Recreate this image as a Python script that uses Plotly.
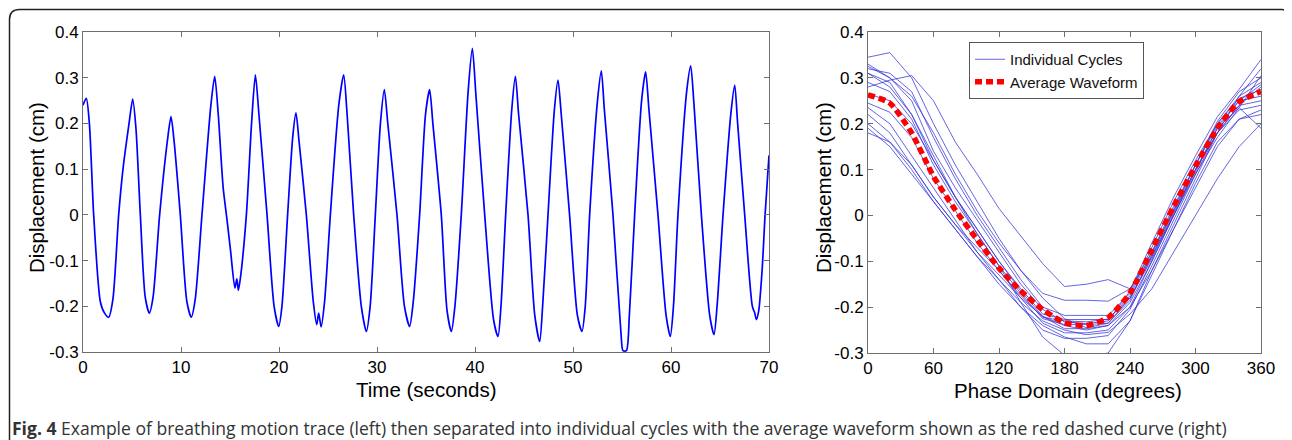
import plotly.graph_objects as go

# ---------------- data: breathing trace (left) ----------------
trace_t = [0.00, 0.34, 0.65, 1.09, 1.77, 2.20, 2.62, 3.05, 3.64, 4.08, 4.70, 5.07,
           5.40, 5.85, 6.35, 6.77, 7.15, 7.82, 8.60, 8.98,
           9.30, 9.93, 10.60, 11.05, 11.45, 12.14, 13.05, 13.44,
           13.80, 14.30, 14.69, 15.05, 15.50, 15.70, 15.85, 16.05, 16.67, 17.20, 17.59,
           17.95, 18.78, 19.50, 19.97, 20.30, 20.88, 21.40, 21.73,
           22.05, 22.79, 23.50, 23.85, 24.05, 24.30, 24.65, 25.24, 26.10, 26.60,
           26.95, 27.62, 28.40, 28.91, 29.30, 29.83, 30.35, 30.75,
           31.10, 32.04, 32.80, 33.33, 33.70, 34.35, 34.95, 35.37,
           35.70, 36.56, 37.15, 37.59, 37.95, 38.60, 39.30, 39.73,
           40.10, 40.99, 41.90, 42.35, 42.65, 43.13, 43.75, 44.12,
           44.45, 45.41, 46.10, 46.60, 46.90, 47.45, 48.10, 48.47,
           48.80, 49.65, 50.45, 50.92, 51.25, 51.70, 52.50, 52.89,
           53.20, 54.08, 54.90, 55.10, 55.45, 55.75, 56.29, 57.00, 57.41,
           57.75, 58.67, 59.50, 59.93, 60.25, 60.71, 61.60, 62.01,
           62.35, 63.10, 63.95, 64.39, 64.70, 65.31, 66.10, 66.50,
           66.80, 67.52, 68.30, 68.55, 68.71, 68.95, 69.30, 69.60, 70.00]
trace_v = [0.240, 0.255, 0.200, 0.000, -0.190, -0.215, -0.224, -0.185, 0.000, 0.100, 0.200, 0.253,
           0.190, 0.000, -0.180, -0.215, -0.180, 0.000, 0.160, 0.215,
           0.160, 0.000, -0.190, -0.224, -0.185, 0.000, 0.240, 0.303,
           0.220, 0.060, -0.010, -0.077, -0.160, -0.140, -0.165, -0.140, 0.000, 0.200, 0.306,
           0.220, 0.000, -0.200, -0.244, -0.200, 0.000, 0.170, 0.223,
           0.160, 0.000, -0.190, -0.240, -0.215, -0.245, -0.190, 0.000, 0.240, 0.306,
           0.220, 0.000, -0.200, -0.255, -0.200, 0.000, 0.200, 0.274,
           0.200, 0.000, -0.200, -0.244, -0.190, 0.000, 0.220, 0.274,
           0.200, 0.000, -0.210, -0.255, -0.200, 0.000, 0.270, 0.364,
           0.260, 0.000, -0.230, -0.266, -0.200, 0.000, 0.230, 0.303,
           0.220, 0.000, -0.220, -0.277, -0.200, 0.000, 0.230, 0.295,
           0.220, 0.000, -0.220, -0.255, -0.200, 0.000, 0.250, 0.315,
           0.230, 0.000, -0.260, -0.297, -0.297, -0.220, 0.000, 0.250, 0.313,
           0.230, 0.000, -0.220, -0.266, -0.200, 0.000, 0.270, 0.326,
           0.240, 0.000, -0.220, -0.262, -0.200, 0.000, 0.220, 0.284,
           0.200, 0.000, -0.200, -0.215, -0.229, -0.210, -0.120, 0.000, 0.130]

# ---------------- data: phase domain (right) ----------------
phase_deg = [0, 20, 40, 60, 80, 100, 120, 140, 160, 180, 200, 220, 240, 260, 280, 300, 320, 340, 360]

cycle_01 = [0.345, 0.355, 0.300, 0.200, 0.110, 0.030, -0.050, -0.120, -0.180, -0.225, -0.245, -0.235, -0.180, -0.090, 0.010, 0.110, 0.200, 0.260, 0.290]
cycle_02 = [0.280, 0.295, 0.305, 0.250, 0.160, 0.090, 0.015, -0.045, -0.105, -0.155, -0.150, -0.140, -0.160, -0.090, 0.000, 0.090, 0.170, 0.235, 0.305]
cycle_03 = [0.325, 0.300, 0.260, 0.180, 0.090, 0.010, -0.060, -0.120, -0.170, -0.185, -0.185, -0.187, -0.160, -0.080, 0.010, 0.100, 0.180, 0.240, 0.280]
cycle_04 = [0.310, 0.280, 0.220, 0.130, 0.040, -0.040, -0.110, -0.190, -0.265, -0.305, -0.310, -0.300, -0.230, -0.120, -0.020, 0.080, 0.180, 0.260, 0.320]
cycle_05 = [0.320, 0.310, 0.270, 0.170, 0.080, 0.000, -0.070, -0.140, -0.200, -0.218, -0.218, -0.218, -0.170, -0.070, 0.030, 0.120, 0.200, 0.255, 0.275]
cycle_06 = [0.310, 0.290, 0.220, 0.120, 0.040, -0.030, -0.100, -0.160, -0.215, -0.227, -0.227, -0.227, -0.175, -0.080, 0.020, 0.110, 0.195, 0.250, 0.285]
cycle_07 = [0.290, 0.270, 0.210, 0.110, 0.030, -0.040, -0.110, -0.170, -0.225, -0.238, -0.238, -0.235, -0.185, -0.085, 0.015, 0.110, 0.205, 0.270, 0.300]
cycle_08 = [0.265, 0.250, 0.200, 0.120, 0.040, -0.030, -0.100, -0.165, -0.220, -0.247, -0.247, -0.240, -0.190, -0.100, 0.000, 0.095, 0.190, 0.250, 0.260]
cycle_09 = [0.245, 0.225, 0.170, 0.080, 0.010, -0.060, -0.120, -0.180, -0.235, -0.256, -0.256, -0.250, -0.200, -0.100, 0.000, 0.100, 0.180, 0.230, 0.240]
cycle_10 = [0.235, 0.200, 0.130, 0.060, -0.010, -0.080, -0.140, -0.200, -0.250, -0.268, -0.268, -0.262, -0.205, -0.110, -0.010, 0.090, 0.180, 0.240, 0.250]
cycle_11 = [0.220, 0.180, 0.110, 0.040, -0.020, -0.080, -0.130, -0.180, -0.220, -0.240, -0.250, -0.240, -0.200, -0.120, -0.030, 0.060, 0.150, 0.210, 0.230]
cycle_12 = [0.200, 0.160, 0.100, 0.030, -0.030, -0.090, -0.140, -0.190, -0.230, -0.250, -0.260, -0.255, -0.215, -0.160, -0.080, 0.000, 0.080, 0.150, 0.200]
cycle_13 = [0.190, 0.150, 0.090, 0.030, -0.030, -0.090, -0.150, -0.200, -0.240, -0.265, -0.280, -0.280, -0.230, -0.130, -0.030, 0.070, 0.160, 0.210, 0.220]
cycle_14 = [0.180, 0.160, 0.110, 0.040, -0.020, -0.070, -0.120, -0.175, -0.222, -0.230, -0.232, -0.226, -0.180, -0.095, 0.005, 0.100, 0.190, 0.235, 0.190]
cycle_15 = [0.330, 0.300, 0.250, 0.140, 0.060, -0.010, -0.080, -0.150, -0.205, -0.232, -0.236, -0.230, -0.165, -0.060, 0.040, 0.130, 0.215, 0.275, 0.340]
cycles = [cycle_01, cycle_02, cycle_03, cycle_04, cycle_05, cycle_06, cycle_07, cycle_08,
          cycle_09, cycle_10, cycle_11, cycle_12, cycle_13, cycle_14, cycle_15]

average_wave = [0.263, 0.245, 0.180, 0.085, 0.012, -0.053, -0.115, -0.165, -0.205, -0.234, -0.240, -0.223, -0.169, -0.075, 0.020, 0.107, 0.190, 0.248, 0.270]

# ---------------- tick labels ----------------
y_tickvals = [-0.3, -0.2, -0.1, 0, 0.1, 0.2, 0.3, 0.4]
y_ticktext = ["-0.3", "-0.2", "-0.1", "0", "0.1", "0.2", "0.3", "0.4"]
time_ticks = [0, 10, 20, 30, 40, 50, 60, 70]
phase_ticks = [0, 60, 120, 180, 240, 300, 360]

caption_bold = "Fig. 4"
caption_text = ("Example of breathing motion trace (left) then separated into individual cycles "
                "with the average waveform shown as the red dashed curve (right)")

# page pixels -> figure (page body has an 8px default margin)
OFF = 8
W, H = 1292 - OFF, 440 - OFF


def px(x):
    return (x - OFF) / W


def py(y):
    return 1 - (y - OFF) / H


FONT = "Liberation Sans, Arial, sans-serif"
AXC = "#6e6e6e"
TICK_SIZE = 17
TITLE_SIZE = 20.5

fig = go.Figure()

fig.add_trace(go.Scatter(x=trace_t, y=trace_v, mode="lines",
                         line=dict(color="#0000ff", width=1.7, shape="spline", smoothing=0.7),
                         showlegend=False, xaxis="x", yaxis="y"))

for i, c in enumerate(cycles):
    fig.add_trace(go.Scatter(x=phase_deg, y=c, mode="lines",
                             line=dict(color="rgba(50,50,215,0.75)", width=1),
                             name="Individual Cycles", legendgroup="ind",
                             showlegend=(i == 0), xaxis="x2", yaxis="y2"))

fig.add_trace(go.Scatter(x=phase_deg, y=average_wave, mode="lines",
                         line=dict(color="#ff0000", width=5.5, dash="7px,4px", shape="spline", smoothing=0.6),
                         name="Average Waveform", xaxis="x2", yaxis="y2"))

axis_common = dict(showgrid=False, zeroline=False, showline=True, linecolor=AXC, linewidth=1,
                   mirror="ticks", ticks="inside", ticklen=5, tickcolor=AXC, automargin=False,
                   tickfont=dict(family=FONT, size=TICK_SIZE, color="#000"))

fig.update_layout(
    width=W, height=H,
    margin=dict(l=0, r=0, t=0, b=0, autoexpand=False),
    paper_bgcolor="white", plot_bgcolor="white",
    xaxis=dict(domain=[px(83), px(769)], range=[0, 70], tickvals=time_ticks, anchor="y", **axis_common),
    yaxis=dict(domain=[py(352), py(32)], range=[-0.3, 0.4], tickvals=y_tickvals, ticktext=y_ticktext,
               anchor="x", **axis_common),
    xaxis2=dict(domain=[px(868), px(1261)], range=[0, 360], tickvals=phase_ticks, anchor="y2", **axis_common),
    yaxis2=dict(domain=[py(353), py(32)], range=[-0.3, 0.4], tickvals=y_tickvals, ticktext=y_ticktext,
                anchor="x2", **axis_common),
    legend=dict(x=px(969), y=py(42), xanchor="left", yanchor="top",
                bgcolor="white", bordercolor="#555", borderwidth=1,
                font=dict(family=FONT, size=15, color="#111"),
                tracegroupgap=0, itemwidth=30),
    showlegend=True,
)

# axis titles
title_font = dict(family=FONT, size=TITLE_SIZE, color="#000")
for txt, x, y, ang in [("Time (seconds)", 426, 389, 0),
                       ("Phase Domain (degrees)", 1068, 390, 0),
                       ("Displacement (cm)", 36, 188, -90),
                       ("Displacement (cm)", 823, 188, -90)]:
    fig.add_annotation(x=px(x), y=py(y), xref="paper", yref="paper", xanchor="center", yanchor="middle",
                       showarrow=False, text=txt, textangle=ang, font=title_font)

# rounded frame (bottom cut off by image edge)
x0 = px(9.5)
x1 = px(1291.5)
yt = py(9.5)
r_x = 10 / W
r_y = 10 / H
frame_path = (f"M {x0},-0.1 L {x0},{yt - r_y} Q {x0},{yt} {x0 + r_x},{yt} "
              f"L {x1 - r_x},{yt} Q {x1},{yt} {x1},{yt - r_y} L {x1},-0.1")
fig.add_shape(type="path", path=frame_path, xref="paper", yref="paper",
              line=dict(color="#222", width=1.5))

fig.add_annotation(x=px(10), y=py(428), xref="paper", yref="paper", xanchor="left", yanchor="middle",
                   showarrow=False,
                   text=f"<b>{caption_bold}</b> {caption_text}",
                   font=dict(family="Open Sans, Noto Sans, sans-serif", size=17.55, color="#333"))

fig.write_html("out.html")
